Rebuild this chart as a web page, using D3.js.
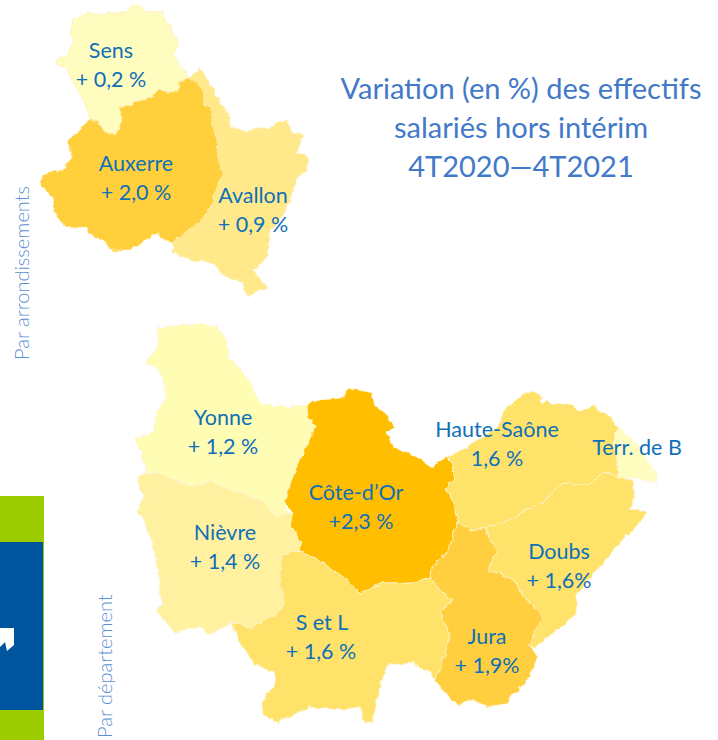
<!DOCTYPE html>
<html>
<head>
<meta charset="utf-8">
<script src="https://cdn.jsdelivr.net/npm/d3@7"></script>
<style>
html,body{margin:0;padding:0;background:#fff;}
text{font-family:Lato,"Open Sans",sans-serif;}
</style>
</head>
<body>
<div id="svg"></div>
<script>
//values
const arrNames = ["Sens","Auxerre","Avallon"];
const arrValues = [0.2,2.0,0.9];
const arrLabels = ["+ 0,2 %","+ 2,0 %","+ 0,9 %"];

const depNames = ["Yonne","Nièvre","Côte-d’Or","S et L","Haute-Saône","Terr. de B","Doubs","Jura"];
const depValues = [1.2,1.4,2.3,1.6,1.6,null,1.6,1.9];
const depLabels = ["+ 1,2 %","+ 1,4 %","+2,3 %","+ 1,6 %","1,6 %","","+ 1,6%","+ 1,9%"];

const titleLines = ["Variation (en %) des effectifs","salariés hors intérim","4T2020—4T2021"];

//shared borders, map outline traced in map units
const sensAux = [[190,78],[180,80],[177,92],[167,92],[158,89],[152,97],[137,102],[118,108],[123,120],[117,135],[105,132],[98,122],[90,120]];
const auxAva = [[180,80],[193,79],[203,90],[203,103],[212,110],[212,128],[217,137],[218,160],[223,173],[217,190],[210,208],[203,220],[187,230],[173,243]];
const yonCot = [[307,405],[308,417],[315,425],[312,437],[300,457],[293,477],[285,500]];
const yonNie = [[287,513],[277,518],[263,502],[243,493],[223,487],[213,480],[193,487],[170,478],[163,473],[147,473]];
const nieCot = [[293,513],[290,525],[302,543],[300,550]];
const cotSal = [[300,550],[323,563],[343,577],[360,593],[383,583],[413,582],[430,578]];
const salJur = [[430,578],[443,593],[453,600],[440,612],[450,637],[443,660],[435,680]];
const nieSal = [[282,555],[280,577],[283,603],[277,613],[250,628],[232,622]];
const cotJur = [[430,578],[433,567],[448,550],[458,523]];
const cotHau = [[458,523],[453,503],[445,487],[455,477],[453,463],[447,457]];
const hauDou = [[485,528],[505,522],[520,513],[543,502],[563,483],[590,485],[603,472],[618,477]];
const hauTer = [[618,477],[617,458],[613,442],[618,427]];
const jurDou = [[485,528],[490,540],[497,550],[488,572],[497,572],[518,583],[522,595],[533,605],[543,618],[528,645]];

const arrShapes = [
  [[73,20],[80,17],[88,13],[98,15],[107,13],[118,14],[127,12],[132,8],[137,4],[141,6],[145,12],[154,11],[162,12],[165,22],[170,26],[173,32],[178,42],[173,55],[177,63],[185,70],...sensAux,[85,103],[79,93],[73,83],[68,70],[60,67],[55,62],[62,58],[67,55],[73,43],[70,32]],
  [...auxAva,[162,240],[157,232],[143,242],[130,250],[113,250],[102,240],[88,233],[87,227],[67,228],[57,217],[52,197],[40,187],[43,173],[63,170],[72,157],[68,140],[80,130],...sensAux.slice(1).reverse()],
  [[190,78],[200,67],[206,78],[212,87],[223,107],[228,113],[230,127],[247,132],[258,128],[270,128],[277,123],[287,120],[290,132],[303,135],[297,153],[307,155],[308,170],[297,177],[293,190],[287,208],[280,220],[270,230],[268,257],[253,270],[267,287],[248,295],[242,283],[223,275],[213,263],[193,260],[172,253],...auxAva.slice().reverse()]
];
const depShapes = [
  [[157,328],[178,326],[198,323],[218,327],[227,342],[228,357],[243,372],[250,382],[258,400],[263,405],[290,407],...yonCot,...yonNie,[140,450],[135,438],[153,433],[157,413],[165,400],[165,387],[158,370],[145,362],[158,348]],
  [[137,478],...yonNie.slice().reverse(),...nieCot,...nieSal,[210,635],[200,627],[175,632],[157,612],[162,600],[158,573],[152,540],[143,520],[137,510],[143,497]],
  [[307,405],[312,402],[320,400],[343,398],[347,388],[360,390],[372,393],[375,407],[383,410],[395,427],[387,433],[393,447],[407,453],[417,457],[430,467],...cotHau.slice().reverse(),...cotJur.slice().reverse(),...cotSal.slice().reverse(),...nieCot.slice().reverse(),...yonCot.slice().reverse()],
  [[282,555],...cotSal,...salJur,[430,672],[413,663],[387,665],[380,687],[372,722],[365,725],[360,707],[340,710],[310,707],[277,723],[263,715],[262,703],[275,683],[273,672],[253,663],[240,643],...nieSal.slice().reverse()],
  [[447,457],[458,452],[482,438],[497,427],[507,407],[525,393],[537,392],[543,402],[573,405],[580,412],[593,405],[610,417],...hauTer.slice().reverse(),...hauDou.slice().reverse(),[470,530],...cotHau],
  [[618,427],[633,440],[643,453],[658,477],[657,483],[633,478],...hauTer],
  [...hauDou,[633,480],[635,497],[630,510],[648,512],[633,530],[613,550],[600,567],[577,593],[575,615],[557,630],[535,648],...jurDou.slice().reverse()],
  [[458,523],[470,530],...jurDou,[538,657],[527,680],[507,703],[487,707],[472,700],[457,705],[443,690],...salJur.slice().reverse(),...cotJur.slice(1)]
];

//label anchors, centre x of each line and baseline of the name line
const arrLabelX = [111,136,253];
const arrValueX = [111,136,253];
const arrLabelY = [58,171,203];
const depLabelX = [223,225,356,322,497,637,559,487];
const depValueX = [223,225,361,321,497,637,559,487];
const depLabelY = [425,540,500,630,437,455,559,644];

const width = 718;
const height = 740;
const labelColor = "#0f70b8";
const titleColor = "#4279c8";

const svg = d3.select("#svg")
              .append("svg")
              .attr("width",width)
              .attr("height",height)
              .style("display","block");

//rough edges and slight blur of the scanned map
const rough = svg.append("filter").attr("id","rough")
   .attr("color-interpolation-filters","sRGB");
rough.append("feTurbulence").attr("type","fractalNoise").attr("baseFrequency",0.14)
   .attr("numOctaves",2).attr("seed",4).attr("result","noise");
rough.append("feDisplacementMap").attr("in","SourceGraphic").attr("in2","noise")
   .attr("scale",6).attr("xChannelSelector","R").attr("yChannelSelector","G").attr("result","moved");
rough.append("feGaussianBlur").attr("in","moved").attr("stdDeviation",0.5);

const path = d3.geoPath(d3.geoIdentity());
const toFeature = ring => ({type:"Polygon",coordinates:[[...ring,ring[0]]]});

//each map has its own colour ramp
const arrColor = d3.scaleLinear().domain([0.2,0.9,2.0]).range(["#fffcc0","#ffe98a","#ffd03c"]);
const depColor = d3.scaleLinear().domain([1.2,1.4,1.6,1.9,2.3]).range(["#fffcb4","#fff1a0","#ffe26a","#ffcf3f","#ffbe00"]);

function drawMap(shapes,values,color,stroke){
  svg.append("g").attr("filter","url(#rough)")
     .selectAll("path").data(shapes).enter()
     .append("path")
     .attr("d",d=>path(toFeature(d)))
     .attr("fill",(d,i)=>values[i]===null ? "#fffcc0" : color(values[i]))
     .attr("stroke",stroke)
     .attr("stroke-width",0.8)
     .attr("stroke-linejoin","round");
}
drawMap(arrShapes,arrValues,arrColor,"#ffeeb0");
drawMap(depShapes,depValues,depColor,"#fff4cf");

function drawLabels(names,labels,xs,valueXs,ys){
  const g = svg.append("g")
     .attr("fill",labelColor)
     .attr("font-size","21.5px")
     .attr("text-anchor","middle");
  g.selectAll("text.name").data(names).enter().append("text")
     .attr("class","name")
     .attr("x",(d,i)=>xs[i])
     .attr("y",(d,i)=>ys[i])
     .text(d=>d);
  g.selectAll("text.val").data(labels).enter().append("text")
     .attr("class","val")
     .attr("x",(d,i)=>valueXs[i])
     .attr("y",(d,i)=>ys[i]+29)
     .text(d=>d);
}
drawLabels(arrNames,arrLabels,arrLabelX,arrValueX,arrLabelY);
drawLabels(depNames,depLabels,depLabelX,depValueX,depLabelY);

//title
svg.selectAll("text.title").data(titleLines).enter().append("text")
   .attr("class","title")
   .attr("x",521)
   .attr("y",(d,i)=>99+i*39)
   .attr("text-anchor","middle")
   .attr("fill",titleColor)
   .attr("font-size","29px")
   .text(d=>d);

//rotated captions
[["Par arrondissements",29,360],["Par département",112,738]].forEach(c=>{
  svg.append("text")
     .attr("transform",`translate(${c[1]},${c[2]}) rotate(-90)`)
     .attr("fill","#5b8fd0")
     .attr("font-size","20px")
     .attr("font-weight",300)
     .text(c[0]);
});

//side band cut by the page edge
svg.append("rect").attr("x",0).attr("y",496).attr("width",44).attr("height",244).attr("fill","#9bcb00");
svg.append("rect").attr("x",0).attr("y",542).attr("width",43).attr("height",168).attr("fill","#00569e");
svg.append("path").attr("d","M0,628H14V645L7,651L5,642L0,647Z").attr("fill","#fff");
</script>
</body>
</html>
